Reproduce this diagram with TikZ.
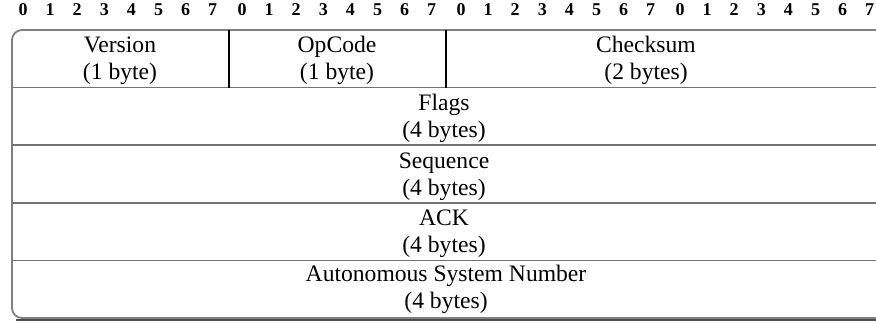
\documentclass[tikz,border=0pt]{standalone}
\usepackage{fontspec}
\setmainfont{Liberation Serif}
\begin{document}
\begin{tikzpicture}[x=0.5pt,y=-0.5pt,
  rule/.style={draw=black!55, line width=0.8pt},
  frame/.style={draw=black!50, line width=0.9pt, rounded corners=5},
  divider/.style={draw=black, line width=0.55pt},
  field/.style={font=\fontsize{11.8}{14}\selectfont, inner sep=0pt, anchor=base},
  bitnum/.style={font=\fontsize{9}{10}\selectfont\bfseries, inner sep=0pt, anchor=base}]
\useasboundingbox (0,0) rectangle (876,324);

% bit numbering above the header
\foreach \b in {0,...,3}
  \foreach \i in {0,...,7}
    \node[bitnum] (bit-\b-\i) at ({23+\b*219+\i*27.1},16) {\i};

% outer frame, open on the right
\draw[frame] (876,30) -- (12,30) -- (12,318) -- (876,318);
\draw[black!70, line width=0.7pt] (16,320) -- (876,320);

% row separators
\foreach \y in {87.6,145.2,202.8,260.4}
  \draw[rule] (12,\y) -- (876,\y);

% byte field dividers in the first word
\draw[divider] (229,30) -- (229,87.6);
\draw[divider] (446,30) -- (446,87.6);

% first word
\node[field] (version)  at (120,53) {Version};
\node[field] (versionsz) at (120,80) {(1 byte)};
\node[field] (opcode)   at (337,53) {OpCode};
\node[field] (opcodesz) at (337,80) {(1 byte)};
\node[field] (checksum) at (646,53) {Checksum};
\node[field] (checksumsz) at (646,80) {(2 bytes)};

% full-width words
\node[field] (flags)   at (444,110.6) {Flags};
\node[field] (flagssz) at (444,137.6) {(4 bytes)};
\node[field] (seq)     at (444,168.2) {Sequence};
\node[field] (seqsz)   at (444,195.2) {(4 bytes)};
\node[field] (ack)     at (444,225.8) {ACK};
\node[field] (acksz)   at (444,252.8) {(4 bytes)};
\node[field] (asn)     at (446,281.4) {Autonomous System Number};
\node[field] (asnsz)   at (446,308.4) {(4 bytes)};
\end{tikzpicture}
\end{document}
